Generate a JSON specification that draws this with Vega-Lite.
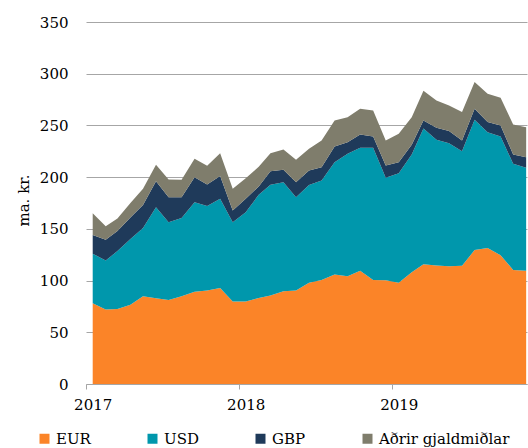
{
  "$schema": "https://vega.github.io/schema/vega-lite/v6.json",
  "width": 441,
  "height": 362,
  "autosize": {"type": "none"},
  "padding": {"left": 86, "top": 22, "right": 1, "bottom": 64},
  "background": "white",
  "config": {"view": {"stroke": null}, "font": "DejaVu Serif"},
  "data": {
    "values": [
      {"d": "2017-01-01", "EUR": 78, "USD": 48, "GBP": 18, "Aðrir gjaldmiðlar": 21},
      {"d": "2017-02-01", "EUR": 72, "USD": 47.5, "GBP": 20, "Aðrir gjaldmiðlar": 13},
      {"d": "2017-03-01", "EUR": 72.6, "USD": 55.9, "GBP": 19.5, "Aðrir gjaldmiðlar": 12},
      {"d": "2017-04-01", "EUR": 76.7, "USD": 63.6, "GBP": 20.7, "Aðrir gjaldmiðlar": 14},
      {"d": "2017-05-01", "EUR": 84.8, "USD": 66, "GBP": 22.2, "Aðrir gjaldmiðlar": 15.7},
      {"d": "2017-06-01", "EUR": 82.8, "USD": 88.2, "GBP": 25, "Aðrir gjaldmiðlar": 16},
      {"d": "2017-07-01", "EUR": 81.3, "USD": 75.1, "GBP": 24.2, "Aðrir gjaldmiðlar": 17.1},
      {"d": "2017-08-01", "EUR": 84.8, "USD": 75.8, "GBP": 20, "Aðrir gjaldmiðlar": 16.8},
      {"d": "2017-09-01", "EUR": 89.3, "USD": 86.5, "GBP": 24.2, "Aðrir gjaldmiðlar": 17.7},
      {"d": "2017-10-01", "EUR": 90.5, "USD": 81.5, "GBP": 21, "Aðrir gjaldmiðlar": 18},
      {"d": "2017-11-01", "EUR": 92.7, "USD": 86.3, "GBP": 22, "Aðrir gjaldmiðlar": 22.2},
      {"d": "2017-12-01", "EUR": 79.8, "USD": 76.6, "GBP": 11.3, "Aðrir gjaldmiðlar": 21},
      {"d": "2018-01-01", "EUR": 79.7, "USD": 86.3, "GBP": 13, "Aðrir gjaldmiðlar": 20},
      {"d": "2018-02-01", "EUR": 83.2, "USD": 99.8, "GBP": 8, "Aðrir gjaldmiðlar": 19},
      {"d": "2018-03-01", "EUR": 85.5, "USD": 107.1, "GBP": 13.2, "Aðrir gjaldmiðlar": 17.2},
      {"d": "2018-04-01", "EUR": 89.6, "USD": 105.5, "GBP": 12, "Aðrir gjaldmiðlar": 19.6},
      {"d": "2018-05-01", "EUR": 90.3, "USD": 90.3, "GBP": 14.5, "Aðrir gjaldmiðlar": 21.7},
      {"d": "2018-06-01", "EUR": 97.8, "USD": 94.7, "GBP": 14, "Aðrir gjaldmiðlar": 20.9},
      {"d": "2018-07-01", "EUR": 100.6, "USD": 96.1, "GBP": 12.9, "Aðrir gjaldmiðlar": 25.9},
      {"d": "2018-08-01", "EUR": 105.8, "USD": 108.7, "GBP": 15.2, "Aðrir gjaldmiðlar": 25.1},
      {"d": "2018-09-01", "EUR": 104.1, "USD": 118.5, "GBP": 11.2, "Aðrir gjaldmiðlar": 24.2},
      {"d": "2018-10-01", "EUR": 109.6, "USD": 118.8, "GBP": 12.9, "Aðrir gjaldmiðlar": 24.8},
      {"d": "2018-11-01", "EUR": 100.6, "USD": 127.8, "GBP": 10.9, "Aðrir gjaldmiðlar": 25.2},
      {"d": "2018-12-01", "EUR": 100.3, "USD": 99.1, "GBP": 11.9, "Aðrir gjaldmiðlar": 24.2},
      {"d": "2019-01-01", "EUR": 98, "USD": 105.8, "GBP": 10.7, "Aðrir gjaldmiðlar": 27.4},
      {"d": "2019-02-01", "EUR": 108, "USD": 113.8, "GBP": 9.6, "Aðrir gjaldmiðlar": 26.6},
      {"d": "2019-03-01", "EUR": 115.8, "USD": 131.2, "GBP": 7.8, "Aðrir gjaldmiðlar": 28.7},
      {"d": "2019-04-01", "EUR": 114.5, "USD": 121.6, "GBP": 11.6, "Aðrir gjaldmiðlar": 26.5},
      {"d": "2019-05-01", "EUR": 113.8, "USD": 119, "GBP": 11.7, "Aðrir gjaldmiðlar": 24.8},
      {"d": "2019-06-01", "EUR": 114.3, "USD": 110.8, "GBP": 10.4, "Aðrir gjaldmiðlar": 27.4},
      {"d": "2019-07-01", "EUR": 129.5, "USD": 126, "GBP": 10.6, "Aðrir gjaldmiðlar": 25.8},
      {"d": "2019-08-01", "EUR": 131.4, "USD": 112.1, "GBP": 9.7, "Aðrir gjaldmiðlar": 27.4},
      {"d": "2019-09-01", "EUR": 124.6, "USD": 114.7, "GBP": 10.7, "Aðrir gjaldmiðlar": 26.8},
      {"d": "2019-10-01", "EUR": 110.3, "USD": 102.6, "GBP": 9, "Aðrir gjaldmiðlar": 29},
      {"d": "2019-11-01", "EUR": 109.6, "USD": 99.4, "GBP": 10.3, "Aðrir gjaldmiðlar": 29}
    ]
  },
  "transform": [
    {"fold": ["EUR", "USD", "GBP", "Aðrir gjaldmiðlar"], "as": ["k", "v"]},
    {"calculate": "indexof(['EUR','USD','GBP','Aðrir gjaldmiðlar'], datum.k)", "as": "o"}
  ],
  "mark": {"type": "area", "interpolate": "linear"},
  "encoding": {
    "x": {
      "field": "d",
      "type": "temporal",
      "scale": {
        "type": "utc",
        "nice": false,
        "domain": [
          {"year": 2016, "month": 12, "date": 16, "utc": true},
          {"year": 2019, "month": 11, "date": 3, "utc": true}
        ]
      },
      "axis": {
        "title": null,
        "values": [
          {"year": 2017, "month": 1, "date": 1, "utc": true},
          {"year": 2018, "month": 1, "date": 1, "utc": true},
          {"year": 2019, "month": 1, "date": 1, "utc": true}
        ],
        "format": "%Y",
        "grid": false,
        "domainColor": "#A6A6A6",
        "tickColor": "#A6A6A6",
        "tickSize": 5,
        "tickOffset": -6.4,
        "labelOffset": 6.4,
        "labelPadding": 8,
        "labelFontSize": 15,
        "labelColor": "#000000",
        "labelFont": "DejaVu Serif"
      }
    },
    "y": {
      "field": "v",
      "type": "quantitative",
      "stack": "zero",
      "scale": {"domain": [0, 350], "nice": false},
      "axis": {
        "title": "ma. kr.",
        "values": [0, 50, 100, 150, 200, 250, 300, 350],
        "domain": false,
        "ticks": false,
        "grid": true,
        "gridColor": "#A6A6A6",
        "gridWidth": 1,
        "labelPadding": 18,
        "labelFontSize": 15,
        "labelColor": "#000000",
        "labelFont": "DejaVu Serif",
        "titleFont": "DejaVu Serif",
        "titleFontSize": 15,
        "titleFontWeight": "normal",
        "titleColor": "#000000",
        "titleAngle": -90,
        "titleAlign": "center",
        "titleBaseline": "alphabetic",
        "titleX": -58,
        "titleY": 178
      }
    },
    "color": {
      "field": "k",
      "type": "nominal",
      "scale": {
        "domain": ["EUR", "USD", "GBP", "Aðrir gjaldmiðlar"],
        "range": ["#FB8428", "#0097AC", "#1F3A5A", "#7F7D6C"]
      },
      "legend": {
        "title": null,
        "orient": "none",
        "legendX": -49,
        "legendY": 409,
        "direction": "horizontal",
        "symbolType": "square",
        "symbolSize": 100,
        "symbolStrokeWidth": 0,
        "symbolOpacity": 1,
        "labelOffset": 4,
        "columnPadding": 54,
        "labelFontSize": 15,
        "labelFont": "DejaVu Serif",
        "labelColor": "#000000"
      }
    },
    "order": {"field": "o", "type": "quantitative"}
  }
}
